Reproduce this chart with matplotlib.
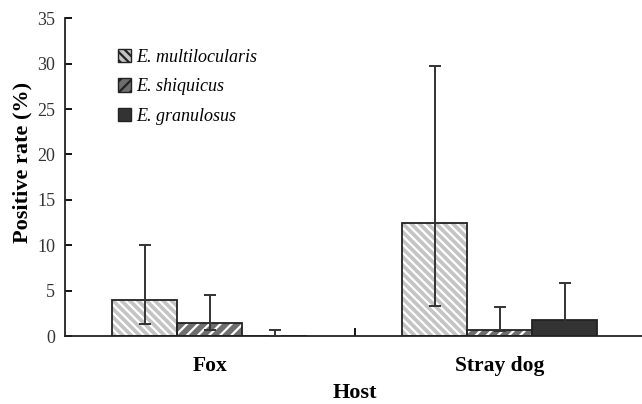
import numpy as np
import matplotlib.pyplot as plt

# data
hosts = ["Fox", "Stray dog"]
species = ["E. multilocularis", "E. shiquicus", "E. granulosus"]
rate = {
    "E. multilocularis": [4.0, 12.5],
    "E. shiquicus": [1.5, 0.7],
    "E. granulosus": [0.0, 1.8],
}
ci_low = {
    "E. multilocularis": [1.35, 3.3],
    "E. shiquicus": [0.65, 0.6],
    "E. granulosus": [0.0, 1.0],
}
ci_high = {
    "E. multilocularis": [10.0, 29.7],
    "E. shiquicus": [4.5, 3.2],
    "E. granulosus": [0.7, 5.9],
}

faces = ["#c4c4c4", "#6e6e6e", "#333333"]
hatches = ["\\\\\\\\", "///", ""]

plt.rcParams["font.family"] = ["Liberation Serif", "DejaVu Serif"]
plt.rcParams["hatch.linewidth"] = 1.6

fig = plt.figure(figsize=(6.42, 4.04), dpi=100)
ax = fig.add_axes([0.101, 0.168, 0.903, 0.787])

x = np.arange(len(hosts))
w = 0.224
for i, sp in enumerate(species):
    pos = x + (i - 1) * w
    vals = np.array(rate[sp])
    lo = np.array(ci_low[sp])
    hi = np.array(ci_high[sp])
    # fill with white hatch, then outline on top
    ax.bar(pos, vals, w, color=faces[i], edgecolor="white", hatch=hatches[i],
           linewidth=0, zorder=2)
    ax.bar(pos, vals, w, facecolor="none", edgecolor="#222222", linewidth=1.3,
           zorder=3)
    ax.errorbar(pos, vals, yerr=[vals - lo, hi - vals], fmt="none",
                ecolor="#333333", elinewidth=1.4, capsize=4, capthick=1.4,
                zorder=4)
    # legend proxy
    ax.bar([0], [0], 0, color=faces[i], edgecolor="#222222", hatch=hatches[i],
           linewidth=1.0, label=sp)

ax.set_xlim(-0.5, 1.5)
ax.set_ylim(0, 35)
ax.set_yticks(np.arange(0, 36, 5))
ax.set_xticks(x)
ax.set_xticklabels(hosts, fontsize=15.5, fontweight="bold")
ax.set_xticks([0.5], minor=True)
ax.tick_params(axis="x", which="major", length=0, pad=14)
ax.tick_params(axis="x", which="minor", direction="in", length=6, width=1.3)
ax.tick_params(axis="y", direction="in", length=5, width=1.3, labelsize=13,
               pad=7)
for lab in ax.get_yticklabels():
    lab.set_color("#333333")

for s in ["top", "right"]:
    ax.spines[s].set_visible(False)
for s in ["left", "bottom"]:
    ax.spines[s].set_linewidth(1.3)
    ax.spines[s].set_color("#222222")

ax.set_xlabel("Host", fontsize=16, fontweight="bold", labelpad=5)
ax.set_ylabel("Positive rate (%)", fontsize=16, fontweight="bold")
ax.yaxis.set_label_coords(-0.056, 0.545)

leg = ax.legend(loc="upper left", bbox_to_anchor=(0.063, 0.955), frameon=False,
                prop={"style": "italic", "size": 13}, handlelength=0.75,
                handleheight=0.75, handletextpad=0.3, labelspacing=0.7)

plt.savefig("out.png", dpi=100)
